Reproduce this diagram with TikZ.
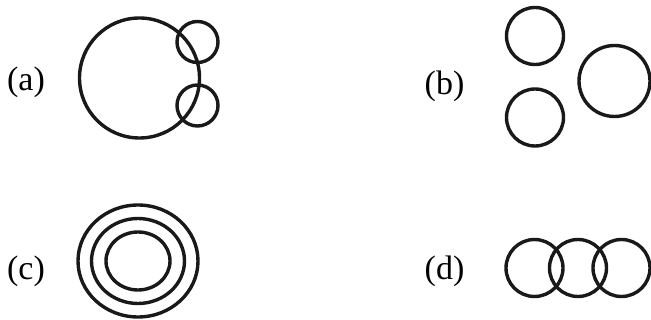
\documentclass[tikz,border=0pt]{standalone}
\usepackage{fontspec}
\setmainfont{Liberation Serif}
\tikzset{
	ring/.style={draw=black!90, line width=3.4pt},
	tag/.style={inner sep=0pt, font=\fontsize{34}{34}\selectfont}
}
\begin{document}
	\begin{tikzpicture}[x=1pt,y=-1pt]
		\useasboundingbox (0,0) rectangle (651,320);

		\draw[ring] (139.5,78) circle (60);
		\draw[ring] (197.5,42) circle (20.5);
		\draw[ring] (197.5,105.5) circle (20.5);

		\draw[ring] (535,36) circle (28.5);
		\draw[ring] (535,117.5) circle (28.5);
		\draw[ring] (614.5,81) circle (35.5);

		\draw[ring] (138,261) ellipse (60 and 56);
		\draw[ring] (138,261) ellipse (46.5 and 42.5);
		\draw[ring] (138,261) ellipse (32 and 29);

		\draw[ring] (534.5,268) circle (28.5);
		\draw[ring] (578,268) circle (28.5);
		\draw[ring] (621.5,268) circle (28.5);

		\node[tag] (labA) at (26,82) {(a)};
		\node[tag] (labB) at (444.5,86) {(b)};
		\node[tag] (labC) at (26,271) {(c)};
		\node[tag] (labD) at (444.5,271) {(d)};
	\end{tikzpicture}
\end{document}
